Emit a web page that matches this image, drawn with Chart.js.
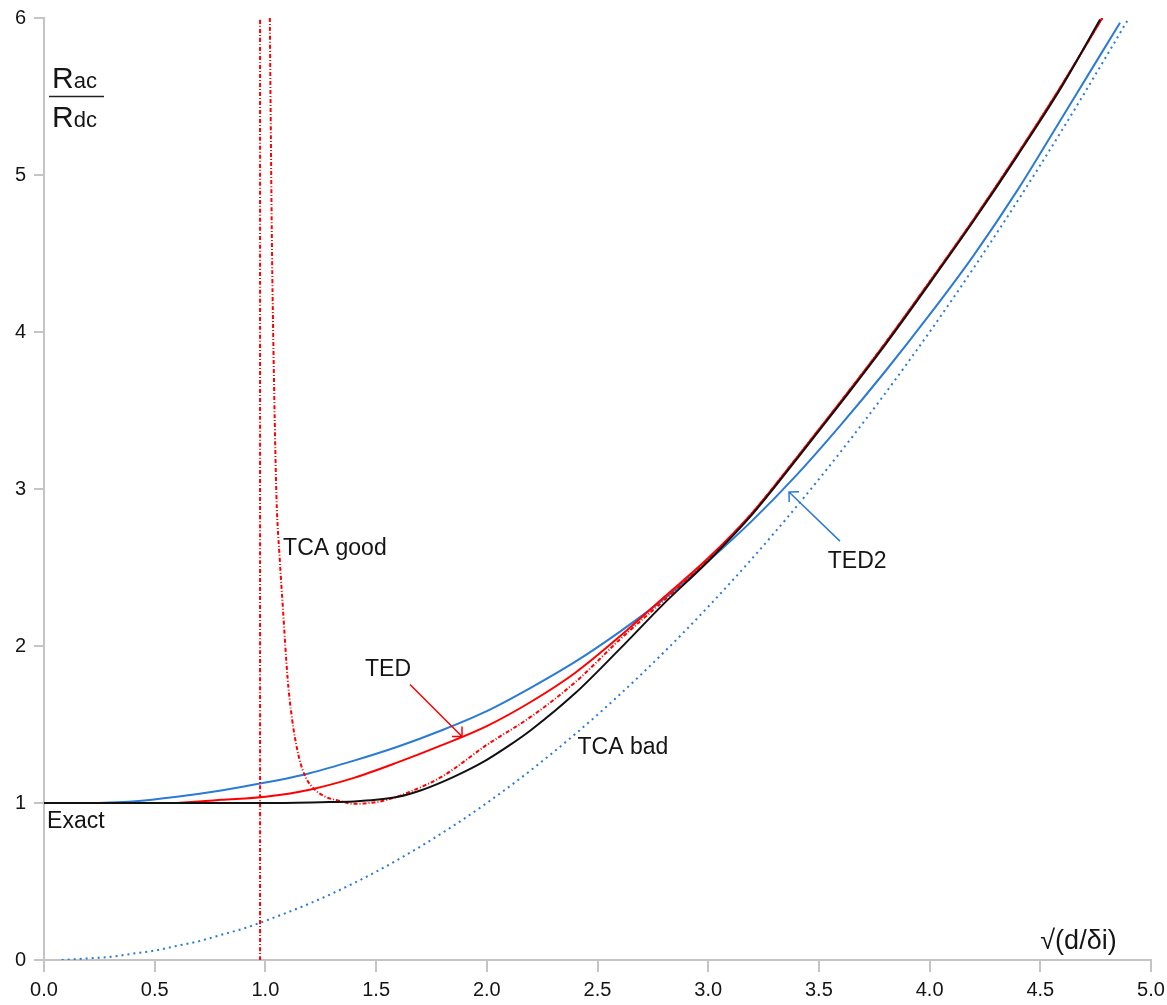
<!DOCTYPE html>
<html>
<head>
<meta charset="utf-8">
<script src="https://cdn.jsdelivr.net/npm/chart.js@4.4.0/dist/chart.umd.min.js"></script>
<style>
  body{margin:0;background:#fff;}
  #wrap{width:1167px;height:1005px;}
</style>
</head>
<body>
<div id="wrap"><canvas id="chart" width="1167" height="1005"></canvas></div>
<script>
// Rac/Rdc against sqrt(d/delta)
const exactX = [0, 0.5, 1.0, 1.25, 1.4, 1.5, 1.6, 1.7, 1.8, 1.9, 2.0, 2.1, 2.2, 2.4, 2.6, 2.8, 3.0, 3.2, 3.4, 3.6, 3.8, 4.0, 4.2, 4.4, 4.6, 4.77];
const exactY = [1.0, 1.0, 1.0, 1.005, 1.01, 1.02, 1.04, 1.08, 1.135, 1.2, 1.275, 1.365, 1.465, 1.7, 1.98, 2.27, 2.54, 2.84, 3.19, 3.55, 3.92, 4.31, 4.71, 5.13, 5.57, 5.99];

const tedX = [0.6, 0.8, 1.0, 1.2, 1.4, 1.6, 1.8, 2.0, 2.2, 2.4, 2.6, 2.8, 3.0, 3.2, 3.4, 3.6, 3.8, 4.0, 4.2, 4.4, 4.6, 4.78];
const tedY = [1.0, 1.02, 1.04, 1.085, 1.16, 1.26, 1.37, 1.49, 1.645, 1.83, 2.06, 2.31, 2.56, 2.85, 3.2, 3.56, 3.93, 4.32, 4.72, 5.14, 5.58, 6.0];

const tedTwoX = [0.25, 0.4, 0.6, 0.8, 1.0, 1.2, 1.4, 1.6, 1.8, 2.0, 2.2, 2.4, 2.6, 2.8, 3.0, 3.2, 3.4, 3.6, 3.8, 4.0, 4.2, 4.4, 4.6, 4.86];
const tedTwoY = [1.0, 1.01, 1.04, 1.08, 1.13, 1.19, 1.27, 1.36, 1.465, 1.585, 1.735, 1.9, 2.09, 2.3, 2.54, 2.8, 3.09, 3.41, 3.75, 4.11, 4.49, 4.91, 5.37, 5.97];

const tcaGoodX = [1.02, 1.025, 1.03, 1.04, 1.05, 1.065, 1.08, 1.1, 1.12, 1.15, 1.18, 1.22, 1.27, 1.33, 1.4, 1.47, 1.55, 1.65, 1.8, 2.0, 2.2, 2.4, 2.6, 2.8, 3.0, 3.2, 3.4, 3.6, 3.8, 4.0, 4.2, 4.4, 4.6, 4.78];
const tcaGoodY = [6.0, 5.2, 4.5, 3.6, 2.95, 2.55, 2.22, 1.8, 1.54, 1.3, 1.17, 1.09, 1.04, 1.015, 0.995, 1.0, 1.02, 1.07, 1.17, 1.37, 1.55, 1.77, 2.04, 2.29, 2.55, 2.85, 3.2, 3.56, 3.93, 4.32, 4.72, 5.14, 5.58, 6.0];

const tcaBadX = [0.08, 0.2, 0.3, 0.4, 0.5, 0.6, 0.7, 0.8, 0.9, 1.0, 1.2, 1.4, 1.6, 1.8, 2.0, 2.2, 2.4, 2.6, 2.8, 3.0, 3.2, 3.4, 3.6, 3.8, 4.0, 4.2, 4.4, 4.6, 4.8, 4.9];
const tcaBadY = [0.0, 0.01, 0.02, 0.04, 0.06, 0.09, 0.12, 0.16, 0.2, 0.25, 0.36, 0.49, 0.64, 0.81, 1.0, 1.21, 1.44, 1.69, 1.96, 2.25, 2.56, 2.89, 3.24, 3.61, 4.0, 4.41, 4.84, 5.29, 5.76, 6.0];

// pole of the TCA good curve
const poleX = [0.976, 0.976];
const poleY = [0, 6];

// curve labels: text, x, y (baseline, left aligned)
const curveLabels = [
  ["Exact", 0.014, 0.84],
  ["TCA good", 1.08, 2.58],
  ["TED", 1.45, 1.81],
  ["TCA bad", 2.41, 1.31],
  ["TED2", 3.54, 2.5]
];
// arrows: from x,y to x,y
const tedArrow = [1.653, 1.755, 1.888, 1.423];
const tedTwoArrow = [3.595, 2.668, 3.365, 2.981];

const FONT = "'Liberation Sans', Arial, sans-serif";
const RED = "#ff0000";
const BLUE = "#2a7ad6";
const AXIS = "#c4c4c4";

function pts(xs, ys){ return xs.map((x,i)=>({x:x, y:ys[i]})); }

function arrow(ctx, x, y, a, color){
  const x0 = x.getPixelForValue(a[0]), y0 = y.getPixelForValue(a[1]);
  const x1 = x.getPixelForValue(a[2]), y1 = y.getPixelForValue(a[3]);
  const ang = Math.atan2(y1-y0, x1-x0);
  const len = 10;
  ctx.save();
  ctx.strokeStyle = color;
  ctx.lineWidth = 1.5;
  ctx.beginPath();
  ctx.moveTo(x0, y0); ctx.lineTo(x1, y1);
  ctx.moveTo(x1 - len*Math.cos(ang-Math.PI/4), y1 - len*Math.sin(ang-Math.PI/4));
  ctx.lineTo(x1, y1);
  ctx.lineTo(x1 - len*Math.cos(ang+Math.PI/4), y1 - len*Math.sin(ang+Math.PI/4));
  ctx.stroke();
  ctx.restore();
}

const textPlugin = {
  id:"texts",
  afterDraw(chart){
    const {ctx, chartArea, scales:{x, y}} = chart;
    ctx.save();
    ctx.fillStyle = "#151515";
    ctx.textBaseline = "alphabetic";
    ctx.textAlign = "left";
    ctx.font = "23px " + FONT;
    curveLabels.forEach(l=>{
      ctx.fillText(l[0], x.getPixelForValue(l[1]), y.getPixelForValue(l[2]));
    });
    arrow(ctx, x, y, tedArrow, RED);
    arrow(ctx, x, y, tedTwoArrow, BLUE);

    // y title as a fraction
    const lx = chartArea.left + 8;
    ctx.font = "30px " + FONT;
    ctx.fillText("R", lx, 88);
    let w = ctx.measureText("R").width;
    ctx.font = "22px " + FONT;
    ctx.fillText("ac", lx + w, 88);
    ctx.font = "30px " + FONT;
    ctx.fillText("R", lx, 127);
    ctx.font = "22px " + FONT;
    ctx.fillText("dc", lx + w, 127);
    ctx.strokeStyle = "#222";
    ctx.lineWidth = 1.5;
    ctx.beginPath();
    ctx.moveTo(lx - 3, 96.5); ctx.lineTo(lx + 52, 96.5);
    ctx.stroke();

    // x title
    ctx.font = "27px " + FONT;
    ctx.fillText("\u221A(d/\u03B4i)", x.getPixelForValue(4.5), chartArea.bottom - 11);
    ctx.restore();
  }
};

const ctx = document.getElementById("chart").getContext("2d");
new Chart(ctx,{
  type:"scatter",
  data:{
    datasets:[
      {label:"Exact", data:pts(exactX, exactY), borderColor:"#111", borderWidth:2},
      {label:"TED", data:pts(tedX, tedY), borderColor:RED, borderWidth:2},
      {label:"TCA good", data:pts(tcaGoodX, tcaGoodY), borderColor:RED, borderWidth:2, borderDash:[4,2,1,2]},
      {label:"", data:pts(poleX, poleY), borderColor:RED, borderWidth:2, borderDash:[4,2,1,2], tension:0},
      {label:"TED2", data:pts(tedTwoX, tedTwoY), borderColor:BLUE, borderWidth:2},
      {label:"TCA bad", data:pts(tcaBadX, tcaBadY), borderColor:BLUE, borderWidth:2, borderDash:[2,4]}
    ]
  },
  options:{
    responsive:false,
    animation:false,
    devicePixelRatio:1,
    layout:{padding:{top:18, right:16, left:0, bottom:0}},
    datasets:{scatter:{showLine:true, pointRadius:0, cubicInterpolationMode:"monotone", fill:false}},
    plugins:{legend:{display:false}, tooltip:{enabled:false}},
    scales:{
      x:{
        type:"linear", min:0, max:5,
        border:{color:AXIS, width:2},
        grid:{drawOnChartArea:false, color:AXIS, lineWidth:2, tickLength:12},
        ticks:{stepSize:0.5, color:"#151515", font:{family:FONT, size:20}, padding:6, maxRotation:0, autoSkip:false,
          callback:v=>v.toFixed(1)},
        afterFit(s){ s.height = 45; s.paddingLeft = 0; s.paddingRight = 0; }
      },
      y:{
        min:0, max:6,
        border:{color:AXIS, width:2},
        grid:{drawOnChartArea:false, color:AXIS, lineWidth:2, tickLength:10},
        ticks:{stepSize:1, color:"#151515", font:{family:FONT, size:20}, padding:8},
        afterFit(s){ s.width = 44; s.paddingTop = 0; s.paddingBottom = 0; }
      }
    }
  },
  plugins:[textPlugin]
});
</script>
</body>
</html>
